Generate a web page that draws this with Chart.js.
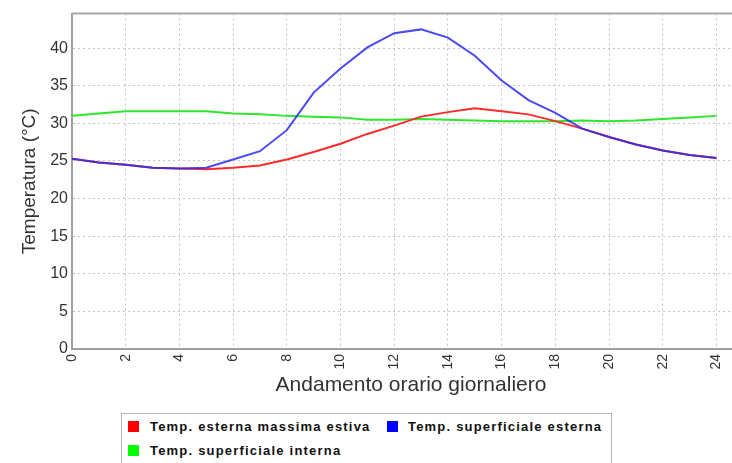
<!DOCTYPE html>
<html>
<head>
<meta charset="utf-8">
<script src="https://cdn.jsdelivr.net/npm/chart.js@4/dist/chart.umd.min.js"></script>
<style>
  html, body { margin: 0; padding: 0; background: #fff; overflow: hidden; width: 732px; height: 463px; }
  #wrap { position: absolute; left: 0; top: 0; width: 750px; height: 405px; }
  #legend {
    position: absolute; left: 121px; top: 413px; width: 491px; height: 70px;
    border: 1px solid #b4b4b4; box-sizing: border-box;
    font-family: "Liberation Sans", Arial, sans-serif; font-size: 13px; font-weight: bold;
    letter-spacing: 1.2px; color: #111;
  }
  .sw { position: absolute; width: 11px; height: 11px; }
  .tx { position: absolute; line-height: 16px; white-space: nowrap; }
</style>
</head>
<body>
<div id="wrap"><canvas id="c" width="750" height="405"></canvas></div>
<div id="legend"></div>
<script>
// Hours of the day and temperatures (°C)
const hours = [0, 1, 2, 3, 4, 5, 6, 7, 8, 9, 10, 11, 12, 13, 14, 15, 16, 17, 18, 19, 20, 21, 22, 23, 24];
const tempEsterna = [25.3, 24.8, 24.5, 24.1, 24.0, 23.9, 24.1, 24.4, 25.2, 26.2, 27.3, 28.6, 29.7, 30.9, 31.5, 32.0, 31.6, 31.2, 30.3, 29.3, 28.2, 27.2, 26.4, 25.8, 25.4];
const tempSupEsterna = [25.3, 24.8, 24.5, 24.1, 24.0, 24.1, 25.2, 26.3, 29.1, 34.1, 37.3, 40.1, 42.0, 42.5, 41.4, 39.0, 35.7, 33.1, 31.4, 29.3, 28.2, 27.2, 26.4, 25.8, 25.4];
const tempSupInterna = [31.0, 31.3, 31.6, 31.6, 31.6, 31.6, 31.3, 31.2, 31.0, 30.9, 30.8, 30.5, 30.5, 30.6, 30.5, 30.4, 30.3, 30.3, 30.3, 30.4, 30.3, 30.4, 30.6, 30.8, 31.0];
const seriesLabels = ['Temp. esterna massima estiva', 'Temp. superficiale esterna', 'Temp. superficiale interna'];
const seriesColors = ['#ff2a2a', 'rgba(42,42,240,0.85)', '#2ee62e'];
const swatchColors = ['#ff0000', '#0000ff', '#00ff00'];
const xTitle = 'Andamento orario giornaliero';
const yTitle = 'Temperatura (°C)';

const FONT = '"Liberation Sans", Arial, sans-serif';
const toPoints = vals => hours.map((h, i) => ({ x: h, y: vals[i] }));

// top frame line of the plot area
const frame = {
  id: 'frame',
  afterDraw(chart) {
    const { ctx, chartArea: a } = chart;
    ctx.save();
    ctx.strokeStyle = '#a8a8a8';
    ctx.lineWidth = 2;
    ctx.beginPath();
    ctx.moveTo(a.left, a.top);
    ctx.lineTo(a.right, a.top);
    ctx.stroke();
    ctx.restore();
  }
};

const chart = new Chart(document.getElementById('c'), {
  type: 'line',
  data: {
    datasets: [
      { label: seriesLabels[0], data: toPoints(tempEsterna), borderColor: seriesColors[0], order: 2 },
      { label: seriesLabels[1], data: toPoints(tempSupEsterna), borderColor: seriesColors[1], order: 1 },
      { label: seriesLabels[2], data: toPoints(tempSupInterna), borderColor: seriesColors[2], order: 3 }
    ]
  },
  options: {
    responsive: false,
    animation: false,
    devicePixelRatio: 1,
    layout: { padding: { top: 13, right: 0, bottom: 0, left: 0 } },
    elements: {
      line: { borderWidth: 2, tension: 0, fill: false },
      point: { radius: 0, hoverRadius: 0 }
    },
    plugins: { legend: { display: false }, tooltip: { enabled: false } },
    scales: {
      x: {
        type: 'linear',
        min: 0,
        max: 25.25,
        afterFit(s) { s.height = 56; },
        ticks: {
          stepSize: 2,
          includeBounds: false,
          autoSkip: false,
          minRotation: 90,
          maxRotation: 90,
          padding: 5,
          color: '#333',
          font: { family: FONT, size: 14 }
        },
        grid: { color: '#c4c4c4', lineWidth: 1, drawTicks: false },
        border: { display: true, color: '#a0a0a0', width: 2, dash: [2, 3] },
        title: {
          display: true,
          text: xTitle,
          color: '#333',
          font: { family: FONT, size: 21 },
          padding: { top: 0, bottom: 7.4 }
        }
      },
      y: {
        min: 0,
        max: 44.6,
        afterFit(s) { s.width = 72; },
        ticks: {
          stepSize: 5,
          includeBounds: false,
          padding: 4,
          color: '#333',
          font: { family: FONT, size: 16 }
        },
        grid: { color: '#c4c4c4', lineWidth: 1, drawTicks: false },
        border: { display: true, color: '#a0a0a0', width: 2, dash: [2, 3] },
        title: {
          display: true,
          text: yTitle,
          color: '#333',
          font: { family: FONT, size: 19 },
          padding: { top: 18.6, bottom: 0 }
        }
      }
    }
  },
  plugins: [frame]
});

// Legend box below the chart, built from the datasets
const legendSpots = [
  { sx: 6, sy: 7, tx: 28, ty: 5 },
  { sx: 265, sy: 7, tx: 286, ty: 5 },
  { sx: 6, sy: 31, tx: 28, ty: 29 }
];
const legend = document.getElementById('legend');
chart.data.datasets.forEach((ds, i) => {
  const p = legendSpots[i];
  const sw = document.createElement('div');
  sw.className = 'sw';
  sw.style.left = p.sx + 'px';
  sw.style.top = p.sy + 'px';
  sw.style.background = swatchColors[i];
  const tx = document.createElement('div');
  tx.className = 'tx';
  tx.style.left = p.tx + 'px';
  tx.style.top = p.ty + 'px';
  tx.textContent = ds.label;
  legend.appendChild(sw);
  legend.appendChild(tx);
});
</script>
</body>
</html>
